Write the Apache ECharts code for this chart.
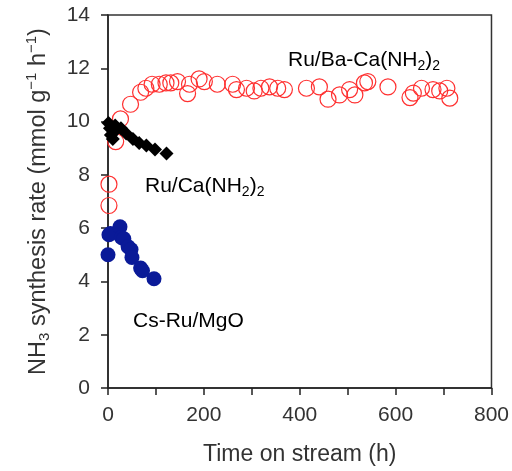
<!DOCTYPE html>
<html><head><meta charset="utf-8">
<script src="https://cdn.jsdelivr.net/npm/echarts@6/dist/echarts.min.js"></script>
<style>html,body{margin:0;padding:0;background:#fff}#c{width:512px;height:471px}</style>
</head><body><div id="c"></div>
<script>
// Ru/Ba-Ca(NH2)2 (open red circles)
const baCaTime = [2,2,16,26,47,68,79,92,107,121,131,145,166,170,190,201,228,260,268,289,305,319,337,354,368,414,441,459,483,504,515,535,542,584,630,637,654,678,692,707,713];
const baCaRate = [6.85,7.65,9.25,10.1,10.65,11.1,11.25,11.4,11.4,11.45,11.45,11.5,11.05,11.4,11.6,11.5,11.4,11.4,11.2,11.25,11.15,11.25,11.3,11.25,11.2,11.25,11.3,10.84,11.0,11.2,11.0,11.45,11.5,11.3,10.9,11.07,11.25,11.2,11.15,11.25,10.88];
// Ru/Ca(NH2)2 (black diamonds)
const caTime = [1,4,6,10,12,15,27,38,52,65,80,98,122];
const caRate = [9.95,9.75,9.5,9.35,9.6,9.85,9.75,9.55,9.35,9.2,9.1,8.95,8.8];
// Cs-Ru/MgO (filled blue circles)
const csTime = [0,2,5,25,28,33,42,48,50,68,72,96];
const csRate = [5.0,5.75,5.8,6.05,5.65,5.6,5.3,5.2,4.9,4.5,4.4,4.1];
// tick labels
const xTickLabels = [0,200,400,600,800];
const yTickLabels = [0,2,4,6,8,10,12,14];

const zip = (a,b) => a.map((v,i)=>[v,b[i]]);
const FONT = 'Liberation Sans, Arial, sans-serif';
const sub = (fs, col) => ({
  n:{fontSize:fs, fontFamily:FONT, color:col, lineHeight:fs+4, verticalAlign:'middle'},
  s:{fontSize:Math.round(fs*0.65), fontFamily:FONT, color:col, lineHeight:Math.round(fs*0.65), padding:[Math.round(fs*0.45),0,0,0], verticalAlign:'bottom'},
  p:{fontSize:Math.round(fs*0.65), fontFamily:FONT, color:col, lineHeight:Math.round(fs*0.65), padding:[0,0,Math.round(fs*0.45),0], verticalAlign:'top'}
});

const chart = echarts.init(document.getElementById('c'), null, {renderer:'canvas'});
chart.setOption({
  animation:false,
  backgroundColor:'#fff',
  grid:{left:108, right:20, top:15, bottom:76, show:true, borderColor:'#333', borderWidth:1.5, backgroundColor:'transparent'},
  xAxis:{
    type:'value', min:0, max:800, interval:100,
    axisLine:{lineStyle:{color:'#222', width:1.5}},
    axisTick:{inside:false, length:7, lineStyle:{color:'#222', width:1.5}},
    axisLabel:{margin:17, fontSize:21, fontFamily:FONT, color:'#333',
      formatter:v => xTickLabels.includes(v) ? String(v) : ''},
    splitLine:{show:false},
    name:'Time on stream (h)', nameLocation:'middle', nameGap:55,
    nameTextStyle:{fontSize:23, fontFamily:FONT, color:'#333'}
  },
  yAxis:{
    type:'value', min:0, max:14, interval:2,
    axisLine:{lineStyle:{color:'#222', width:1.5}},
    axisTick:{inside:false, length:7, lineStyle:{color:'#222', width:1.5}},
    axisLabel:{margin:18, fontSize:21, fontFamily:FONT, color:'#333',
      formatter:v => yTickLabels.includes(v) ? String(v) : ''},
    splitLine:{show:false},
    name:'{n|NH}{s|3}{n| synthesis rate (mmol g}{p|−1}{n| h}{p|−1}{n|)}',
    nameLocation:'middle', nameGap:56, nameRotate:90,
    nameTextStyle:{rich:sub(23.5,'#333')}
  },
  graphic:[
    {type:'text', left:288, top:50, silent:true, style:{text:'{n|Ru/Ba-Ca(NH}{s|2}{n|)}{s|2}', rich:sub(21,'#f53535')}},
    {type:'text', left:145, top:176, silent:true, style:{text:'{n|Ru/Ca(NH}{s|2}{n|)}{s|2}', rich:sub(21,'#333')}},
    {type:'text', left:133, top:311, silent:true, style:{text:'{n|Cs-Ru/MgO}', rich:sub(21,'#2233a0')}}
  ],
  series:[
    {type:'scatter', name:'Ru/Ba-Ca(NH2)2', data:zip(baCaTime,baCaRate), symbol:'circle', symbolSize:16,
      itemStyle:{color:'transparent', borderColor:'#ff3030', borderWidth:1.2, opacity:1}},
    {type:'scatter', name:'Ru/Ca(NH2)2', data:zip(caTime,caRate), symbol:'diamond', symbolSize:14,
      itemStyle:{color:'#000', opacity:1}},
    {type:'scatter', name:'Cs-Ru/MgO', data:zip(csTime,csRate), symbol:'circle', symbolSize:15,
      itemStyle:{color:'#0a1a98', opacity:1}}
  ]
});
</script></body></html>
